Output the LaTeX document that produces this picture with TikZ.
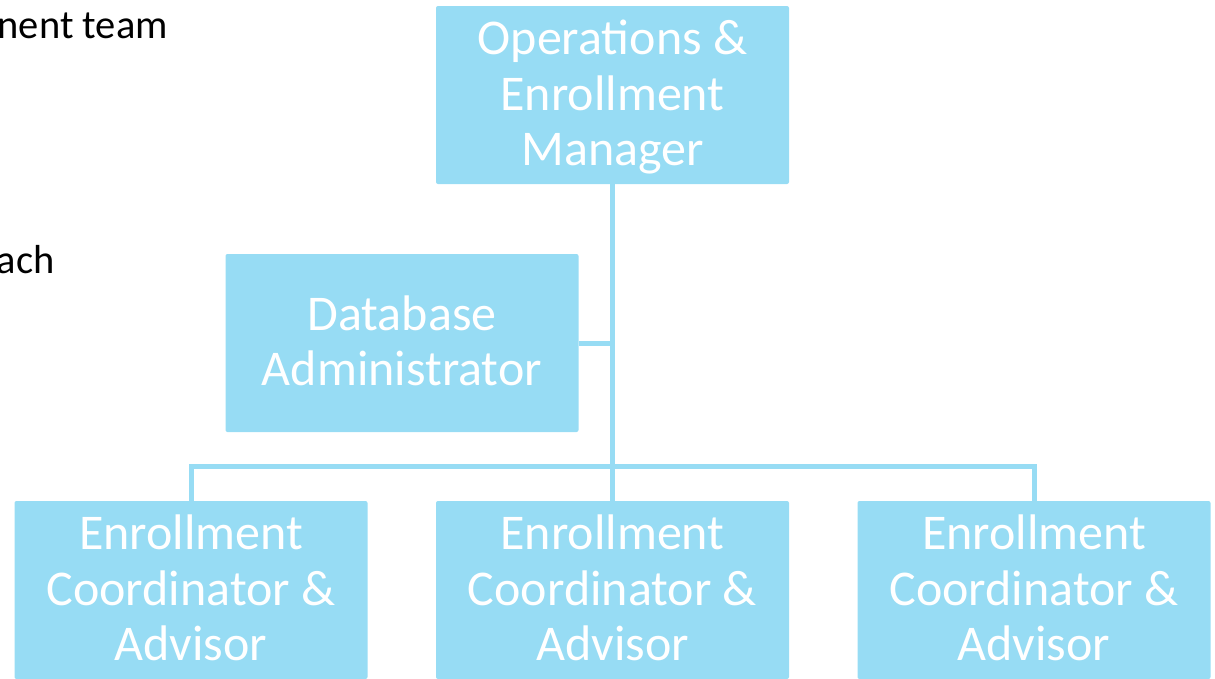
\documentclass[tikz,border=0pt]{standalone}
\usepackage{fontspec}
\setmainfont{Carlito}
\definecolor{boxblue}{RGB}{151,220,244}
\newcommand{\orgtext}[1]{\raisebox{-4pt}[\height][\depth]{\begin{tabular}{@{}c@{}}#1\end{tabular}}}
\begin{document}
\begin{tikzpicture}[x=1pt,y=-1pt,
  orgbox/.style={fill=boxblue, draw=none, rounded corners=2pt, minimum width=353pt, minimum height=178pt, inner sep=0pt, align=center, text=white, font=\fontsize{50}{55.5}\selectfont},
  conn/.style={draw=boxblue, line width=5pt},
  side/.style={font=\fontsize{40.5}{48}\selectfont, text=black, inner sep=0pt}]
\useasboundingbox (0,0) rectangle (1215,678);
\node[side, anchor=base east] (t1) at (168,38) {nent team};
\node[side, anchor=base east] (t2) at (55,273) {ach};
\node[orgbox] (top) at (612.5,95) {\orgtext{Operations \&\\Enrollment\\Manager}};
\node[orgbox] (db) at (402,343) {\orgtext{Database\\Administrator}};
\node[orgbox] (c1) at (191,590) {\orgtext{Enrollment\\Coordinator \&\\Advisor}};
\node[orgbox] (c2) at (612.5,590) {\orgtext{Enrollment\\Coordinator \&\\Advisor}};
\node[orgbox] (c3) at (1034,590) {\orgtext{Enrollment\\Coordinator \&\\Advisor}};
\coordinate (bar) at (0,466);
\draw[conn] (top.south) -- (c2.north);
\draw[conn] (c1.north) -- (c1.north |- bar) -| (c3.north);
\draw[conn] (db.east) -- (db.east -| top.south);
\end{tikzpicture}
\end{document}
